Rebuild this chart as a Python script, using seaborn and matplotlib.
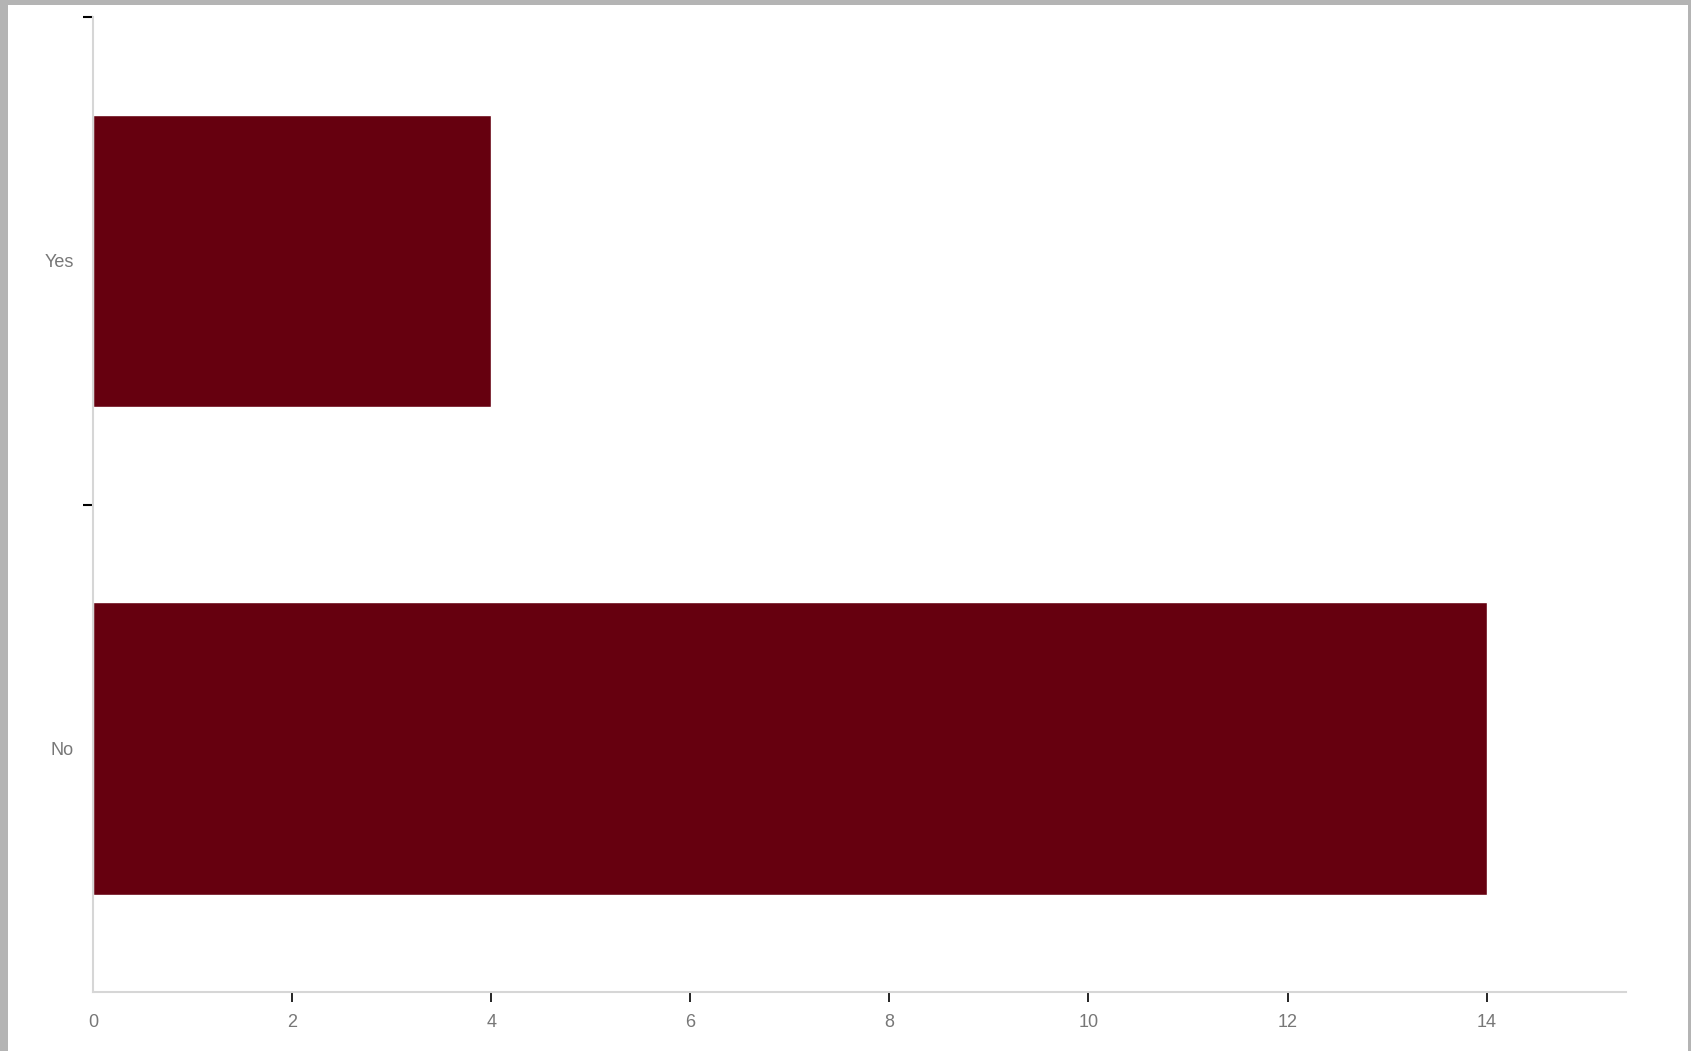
import matplotlib
matplotlib.use("Agg")
import matplotlib.pyplot as plt
import seaborn as sns
import pandas as pd
from matplotlib.patches import Rectangle

# chart data
answers = ["Yes", "No"]
counts = [4, 14]
x_ticks = [0, 2, 4, 6, 8, 10, 12, 14]

df = pd.DataFrame({"answer": answers, "count": counts})

sns.set_style("white")
plt.rcParams["font.family"] = ["Liberation Sans", "DejaVu Sans"]

fig = plt.figure(figsize=(16.91, 10.51), dpi=100)
fig.patch.set_facecolor("#b4b4b4")
# white page inside the grey screenshot frame
fig.patches.append(Rectangle((8 / 1691, 0), 1680 / 1691, 1 - 5 / 1051,
                             transform=fig.transFigure, facecolor="white",
                             edgecolor="none", zorder=-1))

ax = fig.add_axes([93 / 1691, 1 - 992 / 1051, (1626 - 93) / 1691, (992 - 17) / 1051])
ax.set_facecolor("none")

sns.barplot(data=df, x="count", y="answer", orient="h", color="#66000f",
            width=0.6, saturation=1, ax=ax)

ax.set_xlim(0, max(counts) * 1.1)
ax.set_ylim(len(answers) - 0.5, -0.5)
ax.set_xticks(x_ticks)
ax.set_xlabel("")
ax.set_ylabel("")

# labels at the band centres, ticks at the upper band edges
ax.set_yticks(range(len(answers)))
ax.set_yticklabels(answers)
ax.set_yticks([i - 0.5 for i in range(len(answers))], minor=True)
ax.tick_params(axis="y", which="major", left=True, length=0, pad=14,
               labelsize=13, labelcolor="#777777")
ax.tick_params(axis="y", which="minor", left=True, length=7, width=1.5, color="black")
ax.tick_params(axis="x", which="major", bottom=True, length=7, width=1.2, color="black",
               pad=9, labelsize=13, labelcolor="#777777")
# no tick mark at the origin
ax.xaxis.get_major_ticks()[0].tick1line.set_visible(False)

for side in ["top", "right"]:
    ax.spines[side].set_visible(False)
for side in ["left", "bottom"]:
    ax.spines[side].set_color("#d6d6d6")
    ax.spines[side].set_linewidth(1.5)

fig.savefig("out.png", dpi=100, facecolor=fig.get_facecolor())
